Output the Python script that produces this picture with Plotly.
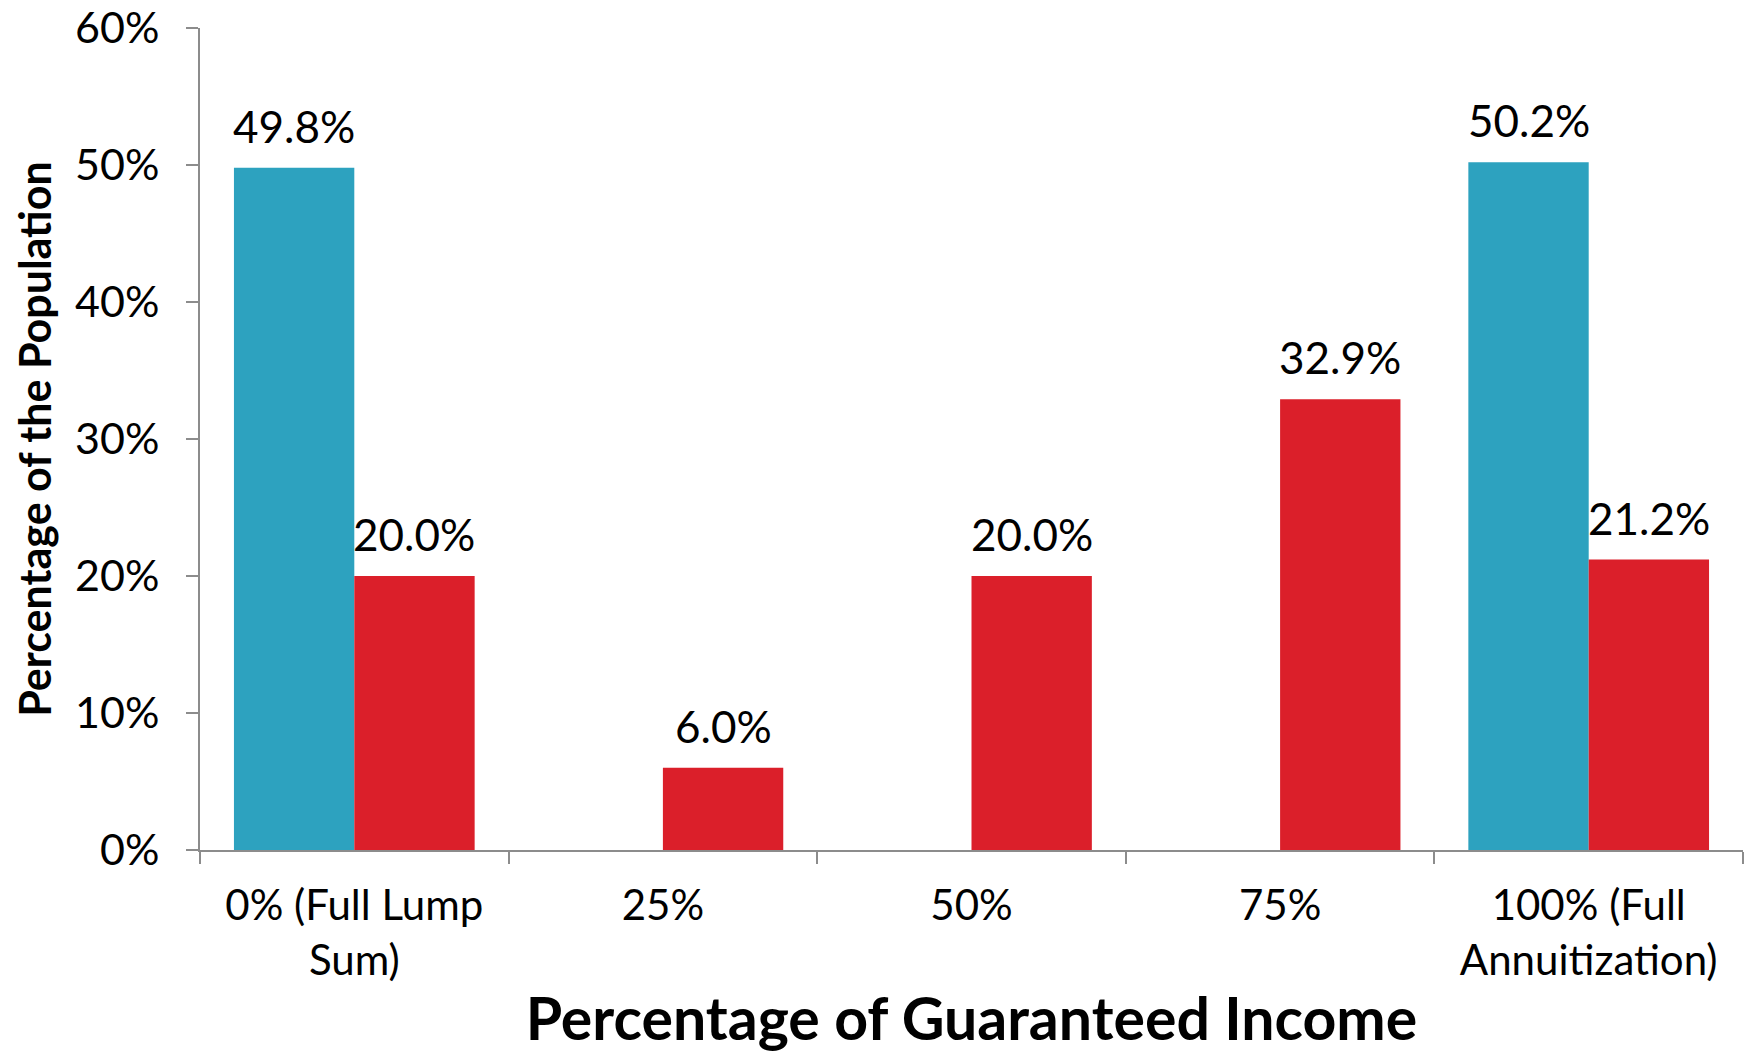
import plotly.graph_objects as go

# Share of the population by percentage of guaranteed income
categories = ["0% (Full Lump<br>Sum)", "25%", "50%", "75%", "100% (Full<br>Annuitization)"]
series_a = [49.8, None, None, None, 50.2]
series_b = [20.0, 6.0, 20.0, 32.9, 21.2]
y_ticks = [0, 10, 20, 30, 40, 50, 60]
y_tick_labels = ["0%", "10%", "20%", "30%", "40%", "50%", "60%"]

BLUE = "#2DA2BF"
RED = "#DB1F2A"
FONT = "Lato"
AXIS_GRAY = "#8C8C8C"
BAR_GAP = 0.22
LABEL_SIZE = 44

fig = go.Figure()
for name, vals, color in [("A", series_a, BLUE), ("B", series_b, RED)]:
    fig.add_trace(go.Bar(
        x=categories, y=vals, name=name,
        marker=dict(color=color, line=dict(width=0)),
    ))

# value labels sit a little above each bar, centred on its slot in the group
left, right, width = 200, 17, 1760
slot_px = (width - left - right) / len(categories) * (1 - BAR_GAP) / 2
for offset, vals in [(-slot_px / 2, series_a), (slot_px / 2, series_b)]:
    for cat, v in zip(categories, vals):
        if v is None:
            continue
        fig.add_annotation(
            x=cat, y=v, text=f"{v:.1f}%", showarrow=False,
            xshift=offset, yshift=14, yanchor="bottom",
            font=dict(family=FONT, size=LABEL_SIZE, color="black"),
        )

fig.update_layout(
    width=1760, height=1053,
    paper_bgcolor="white", plot_bgcolor="white",
    barmode="group", bargap=BAR_GAP, bargroupgap=0,
    showlegend=False,
    margin=dict(l=left, r=right, t=28, b=203),
    font=dict(family=FONT, color="black"),
)
fig.update_xaxes(
    automargin=False,
    showline=True, linecolor=AXIS_GRAY, linewidth=2,
    ticks="outside", tickson="boundaries", ticklen=12, tickcolor=AXIS_GRAY, tickwidth=2,
    ticklabelstandoff=18,
    tickfont=dict(family=FONT, size=42, color="black"),
    showgrid=False,
    title=dict(text="<b>Percentage of Guaranteed Income</b>",
               font=dict(family=FONT, size=59, color="black"), standoff=20),
)
fig.update_yaxes(
    automargin=False,
    range=[0, 60], tickvals=y_ticks, ticktext=y_tick_labels,
    showline=True, linecolor=AXIS_GRAY, linewidth=2,
    ticks="outside", ticklen=12, tickcolor=AXIS_GRAY, tickwidth=2,
    ticklabelstandoff=18,
    tickfont=dict(family=FONT, size=43, color="black"),
    showgrid=False, zeroline=False,
    title=dict(text="<b>Percentage of the Population</b>",
               font=dict(family=FONT, size=43, color="black"), standoff=10),
)

fig.write_html("out.html")
